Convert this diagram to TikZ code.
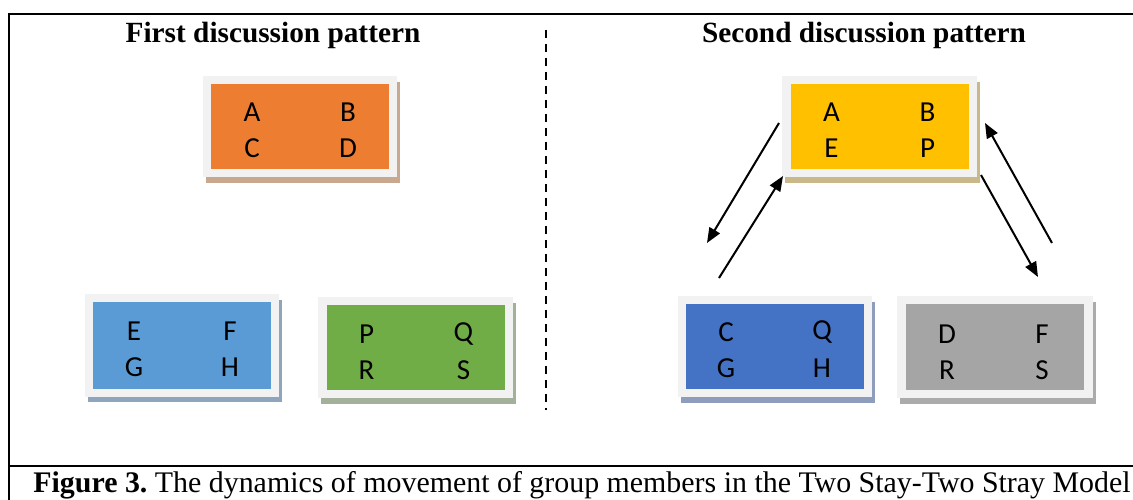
\documentclass[tikz,border=0pt]{standalone}
\usepackage{fontspec}
\setmainfont{Liberation Serif}
\newfontfamily\boxfont{Carlito}
\usetikzlibrary{arrows.meta}
\frenchspacing
\definecolor{framegray}{HTML}{F2F2F2}
\definecolor{orfill}{HTML}{ED7D31}
\definecolor{orsh}{HTML}{C9A890}
\definecolor{yefill}{HTML}{FFC000}
\definecolor{yesh}{HTML}{C8B88A}
\definecolor{blfill}{HTML}{5B9BD5}
\definecolor{blsh}{HTML}{8FA5BD}
\definecolor{grfill}{HTML}{70AD47}
\definecolor{grsh}{HTML}{A3B09A}
\definecolor{dbfill}{HTML}{4472C4}
\definecolor{dbsh}{HTML}{8E9DBB}
\definecolor{gyfill}{HTML}{A5A5A5}
\definecolor{gysh}{HTML}{ABABAB}
\begin{document}
\begin{tikzpicture}[x=1pt,y=-1pt,
  outerframe/.style={fill=framegray, draw=none, minimum width=194pt, minimum height=101pt, inner sep=0pt},
  innerbox/.style={draw=none, minimum width=178pt, minimum height=85pt, inner sep=0pt},
  letter/.style={font=\boxfont\fontsize{29}{34}\selectfont, inner sep=0pt},
  titletext/.style={font=\bfseries\fontsize{29.3}{33}\selectfont, inner sep=0pt, anchor=base},
  arr/.style={line width=2pt, -{Triangle[length=15pt,width=12pt]}},
  rule/.style={line width=2pt}]
\useasboundingbox (0,0) rectangle (1133,500);
\fill[white] (0,0) rectangle (1133,500);
% outer frame
\coordinate (ftl) at (9,14);
\coordinate (ftr) at (1140,14);
\coordinate (fbl) at (9,510);
\coordinate (fml) at (9,466);
\coordinate (fmr) at (1140,466);
\draw[rule] (ftr) -- (ftl) -- (fbl);
\draw[rule] (fml) -- (fmr);
% dashed separator
\coordinate (ds) at (546,30);
\coordinate (de) at (546,410);
\draw[line width=2pt, dash pattern=on 8pt off 6pt] (ds) -- (de);
% titles
\node[titletext] (t1) at (273,43) {First discussion pattern};
\node[titletext] (t2) at (864,43) {Second discussion pattern};
% caption
\node[anchor=base, inner sep=0pt, font=\fontsize{29.9}{33}\selectfont] (cap) at (582,492) {\textbf{Figure 3.} The dynamics of movement of group members in the Two Stay-Two Stray Model};
% ---- orange box
\fill[orsh] (205.5,82) rectangle (399.5,183);
\node[outerframe] (g1) at (300,126.5) {};
\node[innerbox, fill=orfill] (g1i) at (g1.center) {};
\node[letter] (g1a) at ([shift={(-48,-14)}]g1.center) {A};
\node[letter] (g1b) at ([shift={(48,-14)}]g1.center) {B};
\node[letter] (g1c) at ([shift={(-48,22)}]g1.center) {C};
\node[letter] (g1d) at ([shift={(48,22)}]g1.center) {D};
% ---- blue box
\fill[blsh] (87.5,300) rectangle (281.5,402);
\node[outerframe, minimum height=103pt] (g2) at (182,345.5) {};
\node[innerbox, fill=blfill, minimum height=87pt] (g2i) at (g2.center) {};
\node[letter] (g2a) at ([shift={(-48,-14)}]g2.center) {E};
\node[letter] (g2b) at ([shift={(48,-14)}]g2.center) {F};
\node[letter] (g2c) at ([shift={(-48,22)}]g2.center) {G};
\node[letter] (g2d) at ([shift={(48,22)}]g2.center) {H};
% ---- green box
\fill[grsh] (320.5,303) rectangle (515.5,404);
\node[outerframe, minimum width=195pt] (g3) at (415.5,347.5) {};
\node[innerbox, fill=grfill] (g3i) at (g3.center) {};
\node[letter] (g3a) at ([shift={(-49,-13)}]g3.center) {P};
\node[letter] (g3b) at ([shift={(48,-13)}]g3.center) {Q};
\node[letter] (g3c) at ([shift={(-49,23)}]g3.center) {R};
\node[letter] (g3d) at ([shift={(48,23)}]g3.center) {S};
% ---- yellow box
\fill[yesh] (784.5,82) rectangle (979.5,183);
\node[outerframe, minimum width=195pt] (g4) at (879.5,126.5) {};
\node[innerbox, fill=yefill] (g4i) at (g4.center) {};
\node[letter] (g4a) at ([shift={(-48,-14)}]g4.center) {A};
\node[letter] (g4b) at ([shift={(48,-14)}]g4.center) {B};
\node[letter] (g4c) at ([shift={(-48,22)}]g4.center) {E};
\node[letter] (g4d) at ([shift={(48,22)}]g4.center) {P};
% ---- dark blue box
\fill[dbsh] (680.5,302) rectangle (874.5,403);
\node[outerframe] (g5) at (775,346.5) {};
\node[innerbox, fill=dbfill] (g5i) at (g5.center) {};
\node[letter] (g5a) at ([shift={(-49,-14)}]g5.center) {C};
\node[letter] (g5b) at ([shift={(47,-14)}]g5.center) {Q};
\node[letter] (g5c) at ([shift={(-49,22)}]g5.center) {G};
\node[letter] (g5d) at ([shift={(47,22)}]g5.center) {H};
% ---- grey box
\fill[gysh] (899.5,302) rectangle (1095.5,404);
\node[outerframe, minimum width=196pt, minimum height=102pt] (g6) at (995,347) {};
\node[innerbox, fill=gyfill, minimum width=178pt, minimum height=86pt] (g6i) at (g6.center) {};
\node[letter] (g6a) at ([shift={(-48,-13)}]g6.center) {D};
\node[letter] (g6b) at ([shift={(47,-13)}]g6.center) {F};
\node[letter] (g6c) at ([shift={(-48,23)}]g6.center) {R};
\node[letter] (g6d) at ([shift={(47,23)}]g6.center) {S};
% ---- arrows
\coordinate (a1s) at (779,123);
\coordinate (a1e) at (707,243);
\coordinate (a2s) at (719,278);
\coordinate (a2e) at (783,176);
\coordinate (a3s) at (1052,243);
\coordinate (a3e) at (985,123);
\coordinate (a4s) at (981,175);
\coordinate (a4e) at (1038,277);
\draw[arr] (a1s) -- (a1e);
\draw[arr] (a2s) -- (a2e);
\draw[arr] (a3s) -- (a3e);
\draw[arr] (a4s) -- (a4e);
\end{tikzpicture}
\end{document}
